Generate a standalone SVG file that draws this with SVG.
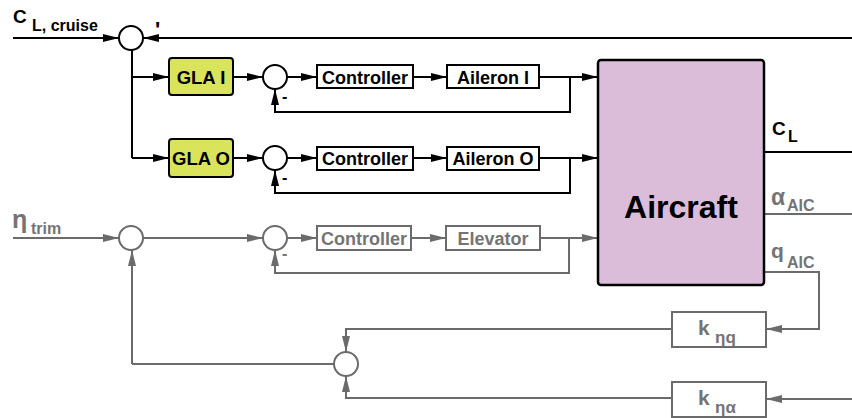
<svg xmlns="http://www.w3.org/2000/svg" width="852" height="418" viewBox="0 0 852 418">
<style>
.k{stroke:#000;stroke-width:2;fill:none}
.g{stroke:#6b6b6b;stroke-width:2;fill:none}
.ka{marker-end:url(#ak)}
.ga{marker-end:url(#ag)}
.sum{fill:#fff;stroke-width:2}
.bx{fill:#fff;stroke-width:2}
text{font-family:"Liberation Sans",Arial,sans-serif;font-weight:bold}
.tk{fill:#000}
.tg{fill:#747474}
.c{text-anchor:middle}
</style>
<defs>
<marker id="ak" markerUnits="userSpaceOnUse" markerWidth="16" markerHeight="8" refX="16" refY="4" orient="auto" viewBox="0 0 16 8"><path d="M0,0 L16,4 L0,8 Z" fill="#000"/></marker>
<marker id="ag" markerUnits="userSpaceOnUse" markerWidth="16" markerHeight="8" refX="16" refY="4" orient="auto" viewBox="0 0 16 8"><path d="M0,0 L16,4 L0,8 Z" fill="#6b6b6b"/></marker>
</defs>
<g id="connectors">
<path class="k ka" d="M13,38 H119"/>
<path class="k ka" d="M852,38 H143"/>
<path class="k" d="M132,50 V158"/>
<path class="k ka" d="M132,77 H169"/>
<path class="k ka" d="M132,158 H169"/>
<path class="k ka" d="M233,77 H263"/>
<path class="k ka" d="M287,77 H317"/>
<path class="k ka" d="M413,77 H447"/>
<path class="k ka" d="M539,77 H598"/>
<path class="k ka" d="M570,77 V112 H275 V89"/>
<path class="k ka" d="M233,158 H263"/>
<path class="k ka" d="M287,158 H317"/>
<path class="k ka" d="M413,158 H447"/>
<path class="k ka" d="M539,158 H598"/>
<path class="k ka" d="M570,158 V193 H275 V170"/>
<path class="k" d="M764,152 H852"/>
<path class="g ga" d="M13,238 H119"/>
<path class="g ga" d="M143,238 H263"/>
<path class="g ga" d="M287,238 H317"/>
<path class="g ga" d="M411,238 H446"/>
<path class="g ga" d="M540,238 H598"/>
<path class="g ga" d="M569,238 V273 H275 V250"/>
<path class="g" d="M764,214 H852"/>
<path class="g ga" d="M764,272 H819 V329 H766"/>
<path class="g ga" d="M852,399 H766"/>
<path class="g ga" d="M672,329 H346 V352"/>
<path class="g ga" d="M672,398 H346 V376"/>
<path class="g" d="M334,364 H132"/>
<path class="g ga" d="M132,364 V250"/>
</g>
<g id="sum1"><circle class="k sum" cx="131" cy="38" r="12"/></g>
<g id="sum2"><circle class="k sum" cx="275" cy="77" r="12"/></g>
<g id="sum3"><circle class="k sum" cx="275" cy="158" r="12"/></g>
<g id="sum4"><circle class="g sum" cx="131" cy="238" r="12"/></g>
<g id="sum5"><circle class="g sum" cx="275" cy="238" r="12"/></g>
<g id="sum6"><circle class="g sum" cx="346" cy="364" r="12"/></g>
<g id="glaI"><rect x="169" y="58" width="64" height="37" rx="3" fill="#d9e45a" stroke="#000" stroke-width="2"/><text class="tk c" x="201" y="83.5" font-size="18.5">GLA I</text></g>
<g id="glaO"><rect x="169" y="139" width="64" height="38" rx="3" fill="#d9e45a" stroke="#000" stroke-width="2"/><text class="tk c" x="201" y="164.5" font-size="18.5">GLA O</text></g>
<g id="ctrl1"><rect class="k bx" x="317" y="65" width="96" height="23"/><text class="tk c" x="365" y="83.5" font-size="18">Controller</text></g>
<g id="ail1"><rect class="k bx" x="447" y="65" width="92" height="23"/><text class="tk c" x="493" y="83.5" font-size="18">Aileron I</text></g>
<g id="ctrl2"><rect class="k bx" x="317" y="147" width="96" height="23"/><text class="tk c" x="365" y="164.5" font-size="18">Controller</text></g>
<g id="ail2"><rect class="k bx" x="447" y="147" width="92" height="23"/><text class="tk c" x="493" y="164.5" font-size="18">Aileron O</text></g>
<g id="ctrl3"><rect class="g bx" x="317" y="226" width="94" height="24"/><text class="tg c" x="364" y="244.5" font-size="18">Controller</text></g>
<g id="elev"><rect class="g bx" x="446" y="226" width="94" height="24"/><text class="tg c" x="493" y="244.5" font-size="18">Elevator</text></g>
<g id="aircraft"><rect x="598" y="60" width="166" height="225" rx="3" fill="#dbbcd9" stroke="#000" stroke-width="2.5"/><text class="tk c" x="681" y="218" font-size="32">Aircraft</text></g>
<g id="kq"><rect class="g bx" x="672" y="312" width="94" height="35"/><text class="tg" x="698" y="335" font-size="21">k</text><text class="tg" x="715" y="343" font-size="17">ηq</text></g>
<g id="ka"><rect class="g bx" x="672" y="382" width="94" height="35"/><text class="tg" x="698" y="405" font-size="21">k</text><text class="tg" x="715" y="413" font-size="17">ηα</text></g>
<g id="labels">
<text class="tk" x="13" y="23" font-size="19">C</text><text class="tk" x="32" y="31" font-size="16">L, cruise</text>
<text class="tk" x="155" y="37" font-size="22" font-weight="normal">'</text>
<text class="tk" x="282" y="102" font-size="16">-</text>
<text class="tk" x="282" y="183" font-size="16">-</text>
<text class="tg" x="282" y="259" font-size="16">-</text>
<text class="tg" x="12" y="228" font-size="25">η</text><text class="tg" x="31" y="234" font-size="16">trim</text>
<text class="tk" x="772" y="135" font-size="19">C</text><text class="tk" x="788" y="142" font-size="16">L</text>
<text class="tg" x="771" y="205" font-size="23">α</text><text class="tg" x="787" y="211" font-size="16">AIC</text>
<text class="tg" x="771" y="258" font-size="21">q</text><text class="tg" x="787" y="268" font-size="16">AIC</text>
</g>
</svg>
